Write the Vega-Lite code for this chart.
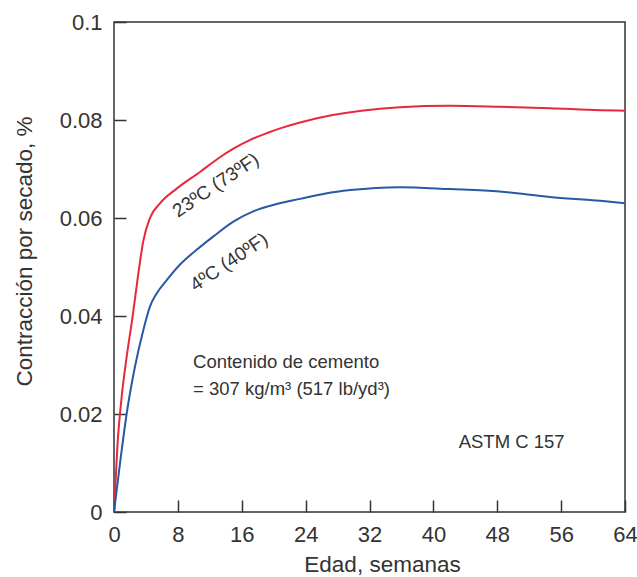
{
  "$schema": "https://vega.github.io/schema/vega-lite/v6.json",
  "width": 511,
  "height": 490,
  "autosize": {"type": "none"},
  "padding": {"left": 114, "top": 22, "right": 12, "bottom": 65},
  "background": "white",
  "config": {
    "font": "Liberation Sans",
    "view": {"stroke": "#333333", "strokeWidth": 1.5},
    "axis": {
      "domain": false,
      "grid": false,
      "ticks": true,
      "tickSize": -12,
      "tickColor": "#333333",
      "tickWidth": 1.5,
      "labelFont": "Liberation Sans",
      "labelFontSize": 22,
      "labelColor": "#333333",
      "titleFont": "Liberation Sans",
      "titleFontSize": 22.5,
      "titleFontWeight": "normal",
      "titleColor": "#333333"
    }
  },
  "datasets": {
    "curves": [
      {"semanas": 0, "contraccion": 0, "serie": "23C"},
      {"semanas": 0.42, "contraccion": 0.0133, "serie": "23C"},
      {"semanas": 0.96, "contraccion": 0.0235, "serie": "23C"},
      {"semanas": 1.59, "contraccion": 0.0317, "serie": "23C"},
      {"semanas": 2.34, "contraccion": 0.040, "serie": "23C"},
      {"semanas": 3.05, "contraccion": 0.0487, "serie": "23C"},
      {"semanas": 3.67, "contraccion": 0.0553, "serie": "23C"},
      {"semanas": 4.5, "contraccion": 0.0600, "serie": "23C"},
      {"semanas": 5.76, "contraccion": 0.0630, "serie": "23C"},
      {"semanas": 7.85, "contraccion": 0.0660, "serie": "23C"},
      {"semanas": 10.77, "contraccion": 0.0694, "serie": "23C"},
      {"semanas": 13, "contraccion": 0.0721, "serie": "23C"},
      {"semanas": 15, "contraccion": 0.0742, "serie": "23C"},
      {"semanas": 17, "contraccion": 0.0759, "serie": "23C"},
      {"semanas": 19.1, "contraccion": 0.0773, "serie": "23C"},
      {"semanas": 21, "contraccion": 0.0784, "serie": "23C"},
      {"semanas": 23.3, "contraccion": 0.0795, "serie": "23C"},
      {"semanas": 27.4, "contraccion": 0.0810, "serie": "23C"},
      {"semanas": 31, "contraccion": 0.0819, "serie": "23C"},
      {"semanas": 35.8, "contraccion": 0.0826, "serie": "23C"},
      {"semanas": 42.1, "contraccion": 0.0829, "serie": "23C"},
      {"semanas": 48.3, "contraccion": 0.0827, "serie": "23C"},
      {"semanas": 54.6, "contraccion": 0.0824, "serie": "23C"},
      {"semanas": 60.9, "contraccion": 0.0820, "serie": "23C"},
      {"semanas": 64, "contraccion": 0.0819, "serie": "23C"},
      {"semanas": 0, "contraccion": 0, "serie": "4C"},
      {"semanas": 0.75, "contraccion": 0.0099, "serie": "4C"},
      {"semanas": 1.59, "contraccion": 0.0201, "serie": "4C"},
      {"semanas": 2.63, "contraccion": 0.0297, "serie": "4C"},
      {"semanas": 3.67, "contraccion": 0.0371, "serie": "4C"},
      {"semanas": 4.5, "contraccion": 0.0419, "serie": "4C"},
      {"semanas": 5.34, "contraccion": 0.0446, "serie": "4C"},
      {"semanas": 6.6, "contraccion": 0.0473, "serie": "4C"},
      {"semanas": 8.27, "contraccion": 0.0505, "serie": "4C"},
      {"semanas": 10.35, "contraccion": 0.0535, "serie": "4C"},
      {"semanas": 12.5, "contraccion": 0.0563, "serie": "4C"},
      {"semanas": 15, "contraccion": 0.0593, "serie": "4C"},
      {"semanas": 17.5, "contraccion": 0.0614, "serie": "4C"},
      {"semanas": 20.5, "contraccion": 0.0629, "serie": "4C"},
      {"semanas": 23.3, "contraccion": 0.0639, "serie": "4C"},
      {"semanas": 26.5, "contraccion": 0.0650, "serie": "4C"},
      {"semanas": 29.6, "contraccion": 0.0657, "serie": "4C"},
      {"semanas": 35.8, "contraccion": 0.0663, "serie": "4C"},
      {"semanas": 42.1, "contraccion": 0.0659, "serie": "4C"},
      {"semanas": 48.3, "contraccion": 0.0654, "serie": "4C"},
      {"semanas": 54.6, "contraccion": 0.0643, "serie": "4C"},
      {"semanas": 60.9, "contraccion": 0.0635, "serie": "4C"},
      {"semanas": 64, "contraccion": 0.063, "serie": "4C"}
    ],
    "curveLabels": [
      {"semanas": 12.75, "contraccion": 0.0667, "texto": "23ºC (73ºF)"},
      {"semanas": 14.4, "contraccion": 0.0510, "texto": "4ºC (40ºF)"}
    ],
    "notes": [
      {"semanas": 9.9, "contraccion": 0.0307, "texto": "Contenido de cemento"},
      {"semanas": 9.9, "contraccion": 0.0252, "texto": "= 307 kg/m³ (517 lb/yd³)"}
    ],
    "astm": [
      {"semanas": 49.8, "contraccion": 0.01435, "texto": "ASTM C 157"}
    ]
  },
  "layer": [
    {
      "data": {"name": "curves"},
      "mark": {"type": "line", "interpolate": "monotone", "strokeWidth": 2},
      "encoding": {
        "x": {
          "field": "semanas", "type": "quantitative",
          "scale": {"domain": [0, 64], "nice": false, "zero": false},
          "axis": {"values": [0, 8, 16, 24, 32, 40, 48, 56, 64], "title": "Edad, semanas", "labelPadding": 24, "labelFlush": false, "titleX": 268, "titleY": 59, "titleBaseline": "alphabetic", "titleAnchor": "middle", "titleAlign": "center"}
        },
        "y": {
          "field": "contraccion", "type": "quantitative",
          "scale": {"domain": [0, 0.1], "nice": false},
          "axis": {"values": [0, 0.02, 0.04, 0.06, 0.08, 0.1], "format": "~g", "title": "Contracción por secado, %", "labelPadding": 24, "labelFlush": false, "titleX": -83, "titleY": 229, "titleAngle": -90, "titleBaseline": "alphabetic", "titleAlign": "center"}
        },
        "color": {
          "field": "serie", "type": "nominal",
          "scale": {"domain": ["23C", "4C"], "range": ["#e8283c", "#2659a6"]},
          "legend": null
        }
      }
    },
    {
      "data": {"name": "curveLabels"},
      "mark": {"type": "text", "angle": -34, "fontSize": 19, "color": "#333333", "align": "center", "baseline": "middle"},
      "encoding": {
        "x": {"field": "semanas", "type": "quantitative"},
        "y": {"field": "contraccion", "type": "quantitative"},
        "text": {"field": "texto"}
      }
    },
    {
      "data": {"name": "notes"},
      "mark": {"type": "text", "fontSize": 18.5, "color": "#333333", "align": "left", "baseline": "middle"},
      "encoding": {
        "x": {"field": "semanas", "type": "quantitative"},
        "y": {"field": "contraccion", "type": "quantitative"},
        "text": {"field": "texto"}
      }
    },
    {
      "data": {"name": "astm"},
      "mark": {"type": "text", "fontSize": 18.5, "color": "#333333", "align": "center", "baseline": "middle"},
      "encoding": {
        "x": {"field": "semanas", "type": "quantitative"},
        "y": {"field": "contraccion", "type": "quantitative"},
        "text": {"field": "texto"}
      }
    }
  ]
}
